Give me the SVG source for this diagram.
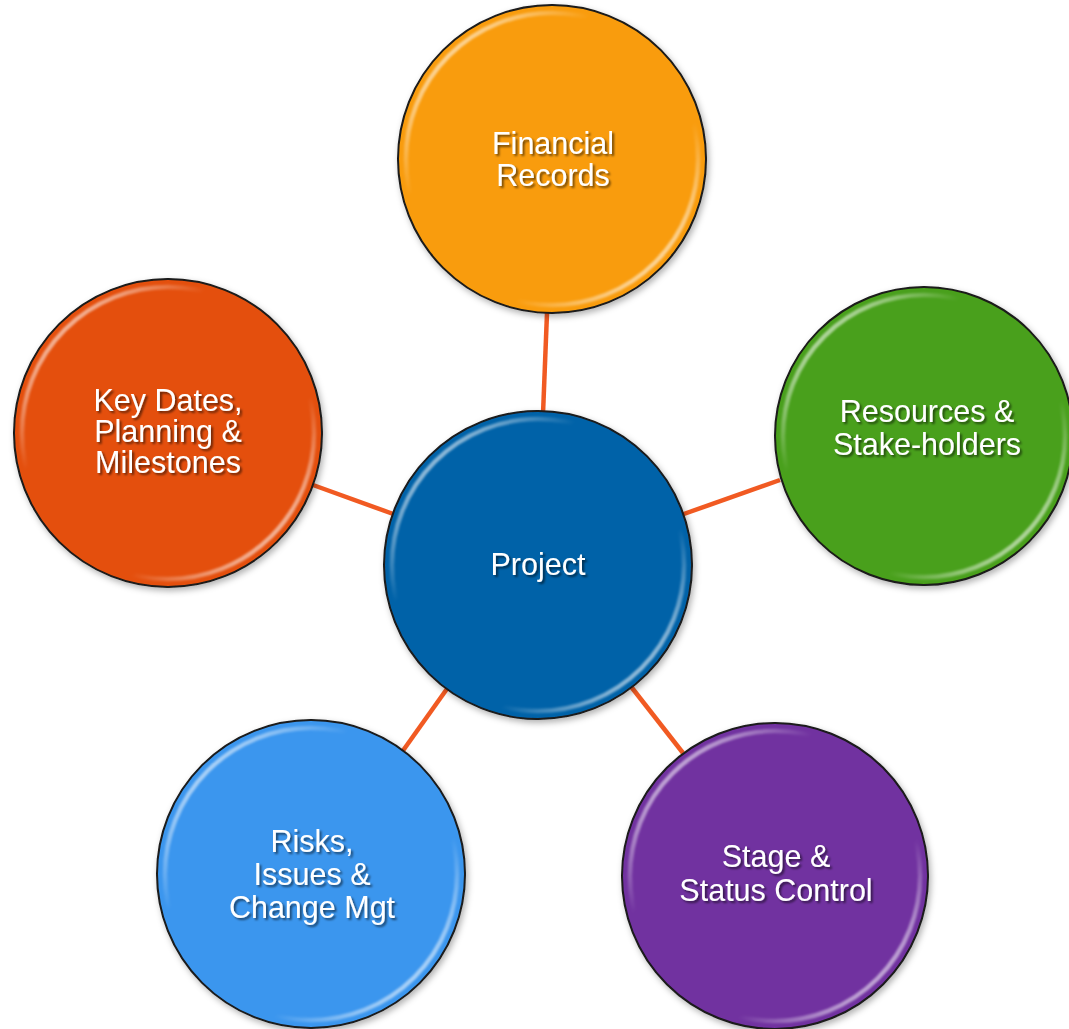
<svg xmlns="http://www.w3.org/2000/svg" width="1069" height="1029" viewBox="0 0 1069 1029">
  <defs>
    <style>
      .link { stroke: #F15A22; stroke-width: 4.5; stroke-linecap: butt; }
      .disc { stroke: #1a1a1a; stroke-width: 2; filter: url(#discShadow); }
      .gloss { fill: none; stroke: url(#glossGrad); stroke-width: 4.5; filter: url(#soft); }
      .label { font-family: "Liberation Sans", Arial, sans-serif; font-size: 30.5px; fill: #ffffff; text-anchor: middle; filter: url(#textShadow); }
    </style>
    <linearGradient id="glossGrad" x1="0" y1="0" x2="1" y2="1">
      <stop offset="0" stop-color="#ffffff" stop-opacity="1"/>
      <stop offset="0.32" stop-color="#ffffff" stop-opacity="0"/>
      <stop offset="0.68" stop-color="#ffffff" stop-opacity="0"/>
      <stop offset="1" stop-color="#ffffff" stop-opacity="1"/>
    </linearGradient>
    <filter id="discShadow" x="-10%" y="-10%" width="125%" height="125%">
      <feDropShadow dx="2" dy="3" stdDeviation="3" flood-color="#000000" flood-opacity="0.3"/>
    </filter>
    <filter id="soft" x="-10%" y="-10%" width="120%" height="120%">
      <feGaussianBlur stdDeviation="1.3"/>
    </filter>
    <filter id="textShadow" x="-10%" y="-20%" width="125%" height="150%">
      <feDropShadow dx="2" dy="2" stdDeviation="1.2" flood-color="#000000" flood-opacity="0.55"/>
    </filter>
  </defs>

  <rect width="1069" height="1029" fill="#ffffff"/>

  <!-- spokes from the hub to each satellite -->
  <g id="connectors">
    <line class="link" x1="547" y1="313" x2="543" y2="414"/>
    <line class="link" x1="313" y1="485" x2="396" y2="515"/>
    <line class="link" x1="681" y1="515" x2="780" y2="480"/>
    <line class="link" x1="449" y1="686" x2="402" y2="752"/>
    <line class="link" x1="629" y1="684" x2="683" y2="753"/>
  </g>

  <g id="financial-records">
    <circle class="disc" cx="552" cy="159" r="154" fill="#F99C0D"/>
    <circle class="gloss" cx="552" cy="159" r="146"/>
    <text class="label" x="553" y="154">Financial</text>
    <text class="label" x="553" y="186">Records</text>
  </g>

  <g id="key-dates">
    <circle class="disc" cx="168" cy="433" r="154" fill="#E4500B"/>
    <circle class="gloss" cx="168" cy="433" r="146"/>
    <text class="label" x="168" y="411">Key Dates,</text>
    <text class="label" x="168" y="442">Planning &amp;</text>
    <text class="label" x="168" y="473">Milestones</text>
  </g>

  <g id="resources">
    <circle class="disc" cx="924" cy="436" r="149" fill="#48A01A"/>
    <circle class="gloss" cx="924" cy="436" r="141"/>
    <text class="label" x="927" y="422">Resources &amp;</text>
    <text class="label" x="927" y="455">Stake-holders</text>
  </g>

  <g id="project">
    <circle class="disc" cx="538" cy="565" r="154" fill="#0462A8"/>
    <circle class="gloss" cx="538" cy="565" r="146"/>
    <text class="label" x="538" y="575">Project</text>
  </g>

  <g id="risks">
    <circle class="disc" cx="311" cy="874" r="154" fill="#3A96EE"/>
    <circle class="gloss" cx="311" cy="874" r="146"/>
    <text class="label" x="312" y="852">Risks,</text>
    <text class="label" x="312" y="885">Issues &amp;</text>
    <text class="label" x="312" y="918">Change Mgt</text>
  </g>

  <g id="stage-status">
    <circle class="disc" cx="775" cy="876" r="153" fill="#7130A0"/>
    <circle class="gloss" cx="775" cy="876" r="145"/>
    <text class="label" x="776" y="867">Stage &amp;</text>
    <text class="label" x="776" y="901">Status Control</text>
  </g>
</svg>
